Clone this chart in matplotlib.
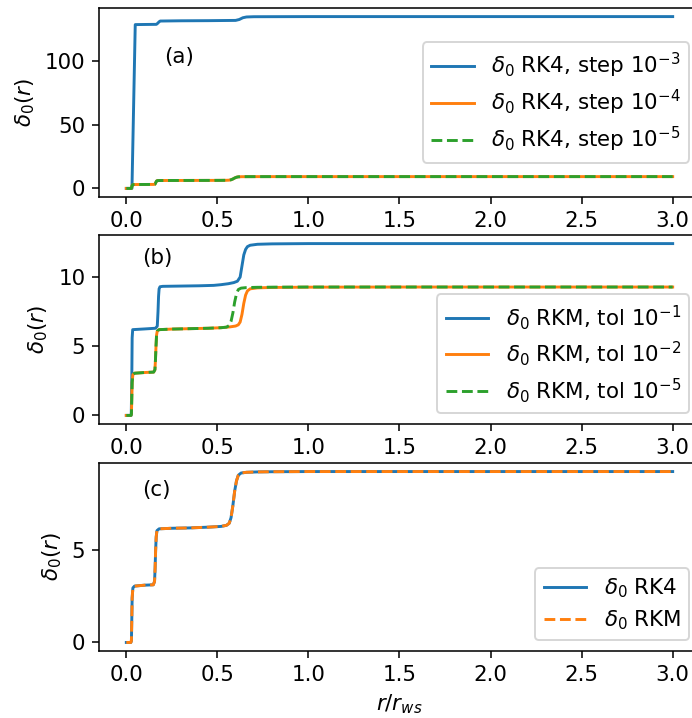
import matplotlib
matplotlib.use("Agg")
import matplotlib.pyplot as plt

plt.rcParams['font.size'] = 11
plt.rcParams['legend.labelspacing'] = 0.36

# ---------------- data ----------------
# panel (a): RK4 with different steps
rk4_a_r_blue = [0, 0.028, 0.031, 0.049, 0.10, 0.165, 0.172, 0.180, 0.186, 0.30, 0.45,
                0.60, 0.62, 0.64, 0.66, 0.70, 1.0, 2.0, 3.0]
rk4_a_step3 = [0, 0, 0, 128.8, 128.9, 129.0, 129.8, 131.0, 131.6, 131.8, 131.9,
               132.1, 132.8, 134.2, 134.8, 135.0, 135.1, 135.1, 135.1]

rk4_a_r = [0, 0.025, 0.028, 0.030, 0.032, 0.036, 0.045, 0.10, 0.150, 0.157,
           0.160, 0.163, 0.166, 0.170, 0.18, 0.25, 0.35, 0.45, 0.52, 0.55,
           0.565, 0.575, 0.585, 0.595, 0.605, 0.615, 0.63, 0.66, 0.72, 0.80,
           1.0, 1.5, 2.0, 3.0]
rk4_a_step4 = [0, 0, 0.1, 1.2, 2.4, 2.95, 3.05, 3.1, 3.13, 3.3,
               4.0, 5.0, 5.8, 6.1, 6.2, 6.24, 6.27, 6.3, 6.34, 6.38,
               6.5, 6.8, 7.4, 8.2, 8.8, 9.1, 9.2, 9.24, 9.26, 9.27,
               9.28, 9.28, 9.28, 9.28]
rk4_a_step5 = [0, 0, 0.1, 1.2, 2.4, 2.95, 3.05, 3.1, 3.13, 3.3,
               4.0, 5.0, 5.8, 6.1, 6.2, 6.24, 6.27, 6.3, 6.34, 6.38,
               6.5, 6.8, 7.4, 8.2, 8.8, 9.1, 9.2, 9.24, 9.26, 9.27,
               9.28, 9.28, 9.28, 9.28]

# panel (b): RKM with different tolerances
rkm_b_r_tol1 = [0, 0.027, 0.030, 0.032, 0.035, 0.10, 0.16, 0.170, 0.174, 0.177,
                0.180, 0.185, 0.20, 0.30, 0.40, 0.48, 0.52, 0.56, 0.59, 0.61,
                0.625, 0.635, 0.645, 0.655, 0.665, 0.68, 0.72, 0.80, 1.0, 1.5,
                2.0, 3.0]
rkm_b_tol1 = [0, 0, 2.5, 5.6, 6.2, 6.25, 6.3, 6.45, 7.5, 8.6,
              9.15, 9.3, 9.33, 9.35, 9.37, 9.4, 9.45, 9.52, 9.6, 9.7,
              10.0, 10.8, 11.6, 12.0, 12.2, 12.3, 12.37, 12.4, 12.42, 12.42,
              12.42, 12.42]

rkm_b_r_tol2 = [0, 0.025, 0.028, 0.030, 0.032, 0.036, 0.045, 0.10, 0.150, 0.157,
                0.160, 0.163, 0.166, 0.170, 0.18, 0.25, 0.35, 0.45, 0.52, 0.57,
                0.60, 0.615, 0.625, 0.635, 0.645, 0.655, 0.665, 0.68, 0.72, 0.80,
                1.0, 1.5, 2.0, 3.0]
rkm_b_tol2 = [0, 0, 0.1, 1.2, 2.4, 2.95, 3.05, 3.1, 3.13, 3.3,
              4.0, 5.0, 5.8, 6.1, 6.2, 6.24, 6.27, 6.3, 6.34, 6.4,
              6.46, 6.55, 6.75, 7.3, 8.1, 8.7, 9.0, 9.15, 9.22, 9.25,
              9.27, 9.28, 9.28, 9.28]

rkm_b_r_tol5 = [0, 0.025, 0.028, 0.030, 0.032, 0.036, 0.045, 0.10, 0.150, 0.157,
                0.160, 0.163, 0.166, 0.170, 0.18, 0.25, 0.35, 0.45, 0.52, 0.55,
                0.565, 0.575, 0.585, 0.595, 0.605, 0.615, 0.63, 0.66, 0.72, 0.80,
                1.0, 1.5, 2.0, 3.0]
rkm_b_tol5 = [0, 0, 0.1, 1.2, 2.4, 2.95, 3.05, 3.1, 3.13, 3.3,
              4.0, 5.0, 5.8, 6.1, 6.2, 6.24, 6.27, 6.3, 6.34, 6.38,
              6.5, 6.8, 7.4, 8.2, 8.8, 9.1, 9.2, 9.24, 9.26, 9.27,
              9.28, 9.28, 9.28, 9.28]

# panel (c): RK4 vs RKM
c_r = [0, 0.025, 0.028, 0.030, 0.032, 0.036, 0.045, 0.10, 0.148, 0.155,
       0.158, 0.161, 0.164, 0.168, 0.18, 0.25, 0.35, 0.45, 0.52, 0.55,
       0.565, 0.575, 0.585, 0.595, 0.605, 0.615, 0.63, 0.66, 0.72, 0.80,
       1.0, 1.5, 2.0, 3.0]
c_rk4 = [0, 0, 0.1, 1.2, 2.4, 2.95, 3.05, 3.1, 3.12, 3.3,
         4.0, 5.0, 5.7, 6.05, 6.15, 6.18, 6.2, 6.24, 6.28, 6.34,
         6.45, 6.75, 7.4, 8.2, 8.75, 9.05, 9.17, 9.21, 9.23, 9.24,
         9.25, 9.25, 9.25, 9.25]
c_rkm = [0, 0, 0.1, 1.2, 2.4, 2.95, 3.05, 3.1, 3.12, 3.3,
         4.0, 5.0, 5.7, 6.05, 6.15, 6.18, 6.2, 6.24, 6.28, 6.34,
         6.45, 6.75, 7.4, 8.2, 8.75, 9.05, 9.17, 9.21, 9.23, 9.24,
         9.25, 9.25, 9.25, 9.25]

labels_a = [r'$\delta_0$ RK4, step $10^{-3}$', r'$\delta_0$ RK4, step $10^{-4}$',
            r'$\delta_0$ RK4, step $10^{-5}$']
labels_b = [r'$\delta_0$ RKM, tol $10^{-1}$', r'$\delta_0$ RKM, tol $10^{-2}$',
            r'$\delta_0$ RKM, tol $10^{-5}$']
labels_c = [r'$\delta_0$ RK4', r'$\delta_0$ RKM']
panel_tags = ['(a)', '(b)', '(c)']

# ---------------- figure ----------------
W, H, DPI = 692, 718, 140
fig = plt.figure(figsize=(W / DPI, H / DPI), dpi=DPI)

def px_axes(top, bottom, left=99, right=700):
    return fig.add_axes([left / W, 1 - bottom / H, (right - left) / W, (bottom - top) / H])

ax_a = px_axes(8, 197)
ax_b = px_axes(235, 424)
ax_c = px_axes(463, 651)

C0, C1, C2 = '#1f77b4', '#ff7f0e', '#2ca02c'

ax_a.plot(rk4_a_r_blue, rk4_a_step3, color=C0, label=labels_a[0])
ax_a.plot(rk4_a_r, rk4_a_step4, color=C1, label=labels_a[1])
ax_a.plot(rk4_a_r, rk4_a_step5, color=C2, ls='--', label=labels_a[2])
ax_a.legend(loc='center right')

ax_b.plot(rkm_b_r_tol1, rkm_b_tol1, color=C0, label=labels_b[0])
ax_b.plot(rkm_b_r_tol2, rkm_b_tol2, color=C1, label=labels_b[1])
ax_b.plot(rkm_b_r_tol5, rkm_b_tol5, color=C2, ls='--', label=labels_b[2])
ax_b.legend(loc='lower right')

ax_c.plot(c_r, c_rk4, color=C0, label=labels_c[0])
ax_c.plot(c_r, c_rkm, color=C1, ls='--', label=labels_c[1])
ax_c.legend(loc='lower right')

tag_pos = [(0.108, 0.742), (0.071, 0.877), (0.071, 0.856)]
for ax, tag, (tx, ty) in zip([ax_a, ax_b, ax_c], panel_tags, tag_pos):
    ax.set_ylabel(r'$\delta_0(r)$')
    ax.text(tx, ty, tag, transform=ax.transAxes, ha='left', va='center')

ax_c.set_xlabel(r'$r/r_{ws}$')

fig.savefig('out.png', dpi=DPI)
